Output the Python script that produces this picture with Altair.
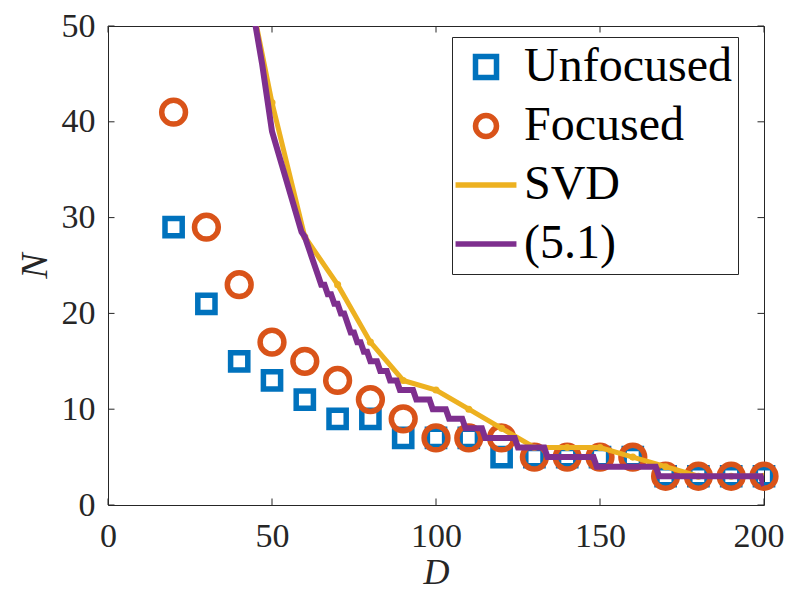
import altair as alt
import pandas as pd

# ---------------- data ----------------
D_points = [20, 30, 40, 50, 60, 70, 80, 90, 100, 110, 120, 130, 140, 150, 160, 170, 180, 190, 200]
unfocused = [29, 21, 15, 13, 11, 9, 9, 7, 7, 7, 5, 5, 5, 5, 5, 3, 3, 3, 3]
focused = [41, 29, 23, 17, 15, 13, 11, 9, 7, 7, 7, 5, 5, 5, 5, 3, 3, 3, 3]

svd_D = [40, 50, 60, 70, 80, 90, 100, 110, 120, 130, 140, 150, 160, 170, 180, 190, 200]
svd_N = [59, 42, 28, 23, 17, 13, 12, 10, 8, 6, 6, 6, 5, 4, 3, 3, 3]

eq_D = [44.5, 47, 50, 53, 56, 59, 60, 61, 62, 63, 64, 65, 66, 67, 68, 69, 70, 71, 72, 73,
        74, 75, 76, 77, 78, 79, 80, 82, 83, 85, 86, 88, 89, 93, 94, 98, 99, 103, 104, 108,
        109, 114, 115, 124, 125, 133, 134, 148, 149, 167, 168, 199, 200]
eq_N = [51, 46, 39, 35.5, 32, 28.5, 28, 27, 26, 25, 24, 23, 23, 22, 22, 21, 21, 20, 20, 19,
        18, 18, 17, 17, 16, 16, 15, 15, 14, 14, 13, 13, 12, 12, 11, 11, 10, 10, 9, 9,
        8, 8, 7, 7, 6, 6, 5, 5, 4, 4, 3, 3, 2]

series_names = ["Unfocused", "Focused", "SVD", "(5.1)"]
series_colors = ["#0072BD", "#D95319", "#EDB120", "#7E2F8E"]

x_ticks = [0, 50, 100, 150, 200]
y_ticks = [0, 10, 20, 30, 40, 50]

# ---------------- tables ----------------
df_unf = pd.DataFrame({"D": D_points, "N": unfocused, "series": "Unfocused"})
df_foc = pd.DataFrame({"D": D_points, "N": focused, "series": "Focused"})
df_svd = pd.DataFrame({"D": svd_D, "N": svd_N, "series": "SVD"})
df_eq = pd.DataFrame({"D": eq_D, "N": eq_N, "series": "(5.1)"})
df_xt = pd.DataFrame({"D": x_ticks})
df_yt = pd.DataFrame({"N": y_ticks})

W, H = 656, 479
AX = "#262626"
FONT = "Liberation Serif"
LINE_PATH = "M-2.9,0L2.9,0"

x_scale = alt.Scale(domain=[0, 200], nice=False, zero=False)
y_scale = alt.Scale(domain=[0, 50], nice=False, zero=False)
color_scale = alt.Scale(domain=series_names, range=series_colors)
shape_scale = alt.Scale(domain=series_names, range=["square", "circle", LINE_PATH, LINE_PATH])

x_axis = alt.Axis(values=x_ticks, title="D", titleFont=FONT, titleFontStyle="italic",
                  titleFontWeight="normal", titleFontSize=36, titleColor=AX,
                  titleX=W / 2, titleY=67, titleBaseline="middle", titleAlign="center",
                  labelFont=FONT, labelFontSize=34, labelColor=AX, labelPadding=14,
                  labelAlign={"condition": {"test": "datum.value == 200", "value": "right"},
                              "value": "center"},
                  labelOffset={"condition": {"test": "datum.value == 200", "value": 20},
                               "value": 0},
                  labelFlush=False, tickSize=0, domain=False, grid=False)
y_axis = alt.Axis(values=y_ticks, title="N", titleFont=FONT, titleFontStyle="italic",
                  titleFontWeight="normal", titleFontSize=38, titleColor=AX,
                  titleX=-73, titleY=H / 2, titleBaseline="middle", titleAlign="center",
                  titleAngle=270,
                  labelFont=FONT, labelFontSize=34, labelColor=AX, labelPadding=13,
                  labelFlush=False, tickSize=0, domain=False, grid=False)

legend = alt.Legend(title=None, orient="none", legendX=344, legendY=11, padding=6,
                    symbolOffset=4, labelOffset=14, rowPadding=11, symbolSize=441,
                    symbolStrokeWidth=5.5, labelFont=FONT, labelFontSize=48,
                    labelColor="black", strokeColor=AX, fillColor="white",
                    labelLimit=500)

X = alt.X("D:Q", scale=x_scale, axis=x_axis)
Y = alt.Y("N:Q", scale=y_scale, axis=y_axis)
C = alt.Color("series:N", scale=color_scale, legend=legend)
S = alt.Shape("series:N", scale=shape_scale, legend=legend)

squares = alt.Chart(df_unf).mark_point(filled=False, size=296, strokeWidth=5.5, opacity=1).encode(
    x=X, y=Y, color=C, shape=S)
circles = alt.Chart(df_foc).mark_point(filled=False, size=566, strokeWidth=5.5, opacity=1).encode(
    x=X, y=Y, color=C, shape=S)
svd_line = alt.Chart(df_svd).mark_line(strokeWidth=5, clip=True).encode(x=X, y=Y, color=C)
svd_dots = alt.Chart(df_svd).mark_point(filled=True, size=50, opacity=1, clip=True,
                                        color="#EDB120", shape="circle").encode(x=X, y=Y)
eq_line = alt.Chart(df_eq).mark_line(strokeWidth=6, clip=True).encode(x=X, y=Y, color=C)

tl = 6.5
xt_bottom = alt.Chart(df_xt).mark_rule(color=AX, strokeWidth=1).encode(
    x=X, y=alt.value(H), y2=alt.value(H - tl))
xt_top = alt.Chart(df_xt).mark_rule(color=AX, strokeWidth=1).encode(
    x=X, y=alt.value(0), y2=alt.value(tl))
yt_left = alt.Chart(df_yt).mark_rule(color=AX, strokeWidth=1).encode(
    y=Y, x=alt.value(0), x2=alt.value(tl))
yt_right = alt.Chart(df_yt).mark_rule(color=AX, strokeWidth=1).encode(
    y=Y, x=alt.value(W), x2=alt.value(W - tl))

chart = alt.layer(
    xt_bottom, xt_top, yt_left, yt_right,
    squares, circles, svd_line, svd_dots, eq_line
).properties(
    width=W, height=H,
    autosize=alt.AutoSizeParams(type="none"),
    padding={"left": 100, "top": 18, "right": 21, "bottom": 85},
    background="white",
).configure_view(stroke=AX, strokeWidth=1)

chart.save("out.html", embed_options={"renderer": "svg", "actions": False})
